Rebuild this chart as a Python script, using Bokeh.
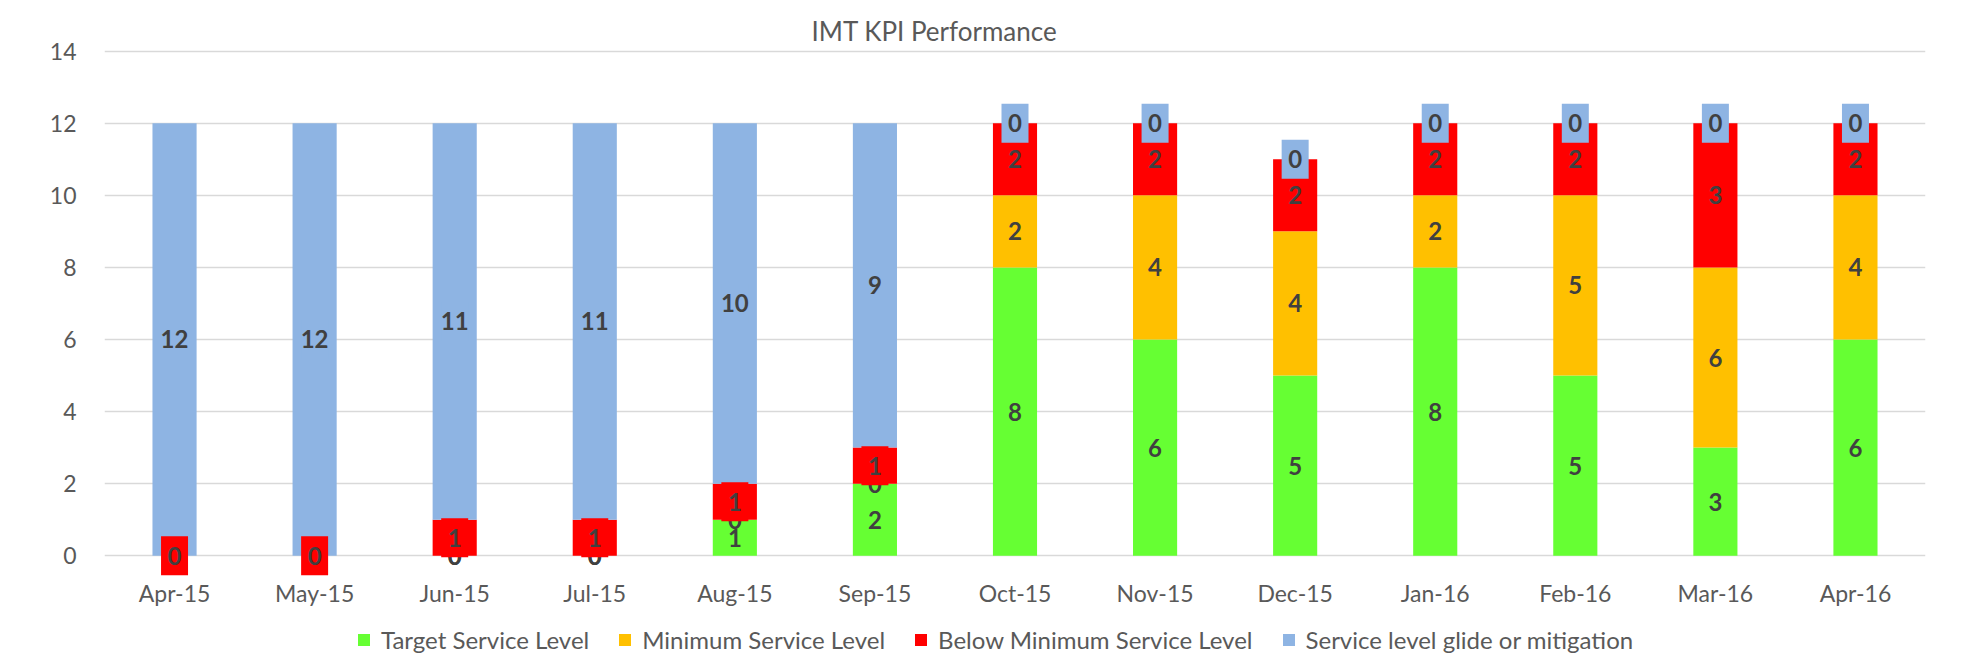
from bokeh.plotting import figure
from bokeh.models import FactorRange, FixedTicker, Legend, LegendItem, ColumnDataSource, Range1d
from bokeh.core.properties import value
from bokeh.embed import file_html
from bokeh.resources import INLINE

months = ["Apr-15", "May-15", "Jun-15", "Jul-15", "Aug-15", "Sep-15", "Oct-15",
          "Nov-15", "Dec-15", "Jan-16", "Feb-16", "Mar-16", "Apr-16"]
# bar segment heights as drawn
target = [0, 0, 0, 0, 1, 2, 8, 6, 5, 8, 5, 3, 6]
minimum = [0, 0, 0, 0, 0, 0, 2, 4, 4, 2, 5, 5, 4]
below = [0, 0, 1, 1, 1, 1, 2, 2, 2, 2, 2, 4, 2]
glide = [12, 12, 11, 11, 10, 9, 0, 0, 0, 0, 0, 0, 0]
# data labels as printed on the chart
target_lbl = [0, 0, 0, 0, 1, 2, 8, 6, 5, 8, 5, 3, 6]
minimum_lbl = [0, 0, 0, 0, 0, 0, 2, 4, 4, 2, 5, 6, 4]
below_lbl = [0, 0, 1, 1, 1, 1, 2, 2, 2, 2, 2, 3, 2]
glide_lbl = [12, 12, 11, 11, 10, 9, 0, 0, 0, 0, 0, 0, 0]
series_names = ["Target Service Level", "Minimum Service Level",
                "Below Minimum Service Level", "Service level glide or mitigation"]
colors = ["#66FF33", "#FFC000", "#FF0000", "#8EB4E3"]
label_boxed = [False, False, True, True]
y_ticks = [0, 2, 4, 6, 8, 10, 12, 14]

FONT = "Lato"

p = figure(x_range=FactorRange(factors=months), y_range=Range1d(-3.1, 14.1),
           width=1988, height=667, output_backend="svg", toolbar_location=None,
           min_border_left=104, min_border_right=63, min_border_top=47, min_border_bottom=0)
p.outline_line_color = None
p.background_fill_color = "white"
p.border_fill_color = "white"

p.title.text = "IMT KPI Performance"
p.title.text_font = FONT
p.title.text_font_size = "26px"
p.title.text_font_style = "normal"
p.title.text_color = "#595959"
p.title.align = "left"
p.title.offset = 707
p.title.standoff = 2

p.xgrid.grid_line_color = None
p.ygrid.grid_line_color = "#D9D9D9"
p.ygrid.grid_line_width = 1.5
p.yaxis.ticker = FixedTicker(ticks=y_ticks)
p.yaxis.axis_line_color = None
p.yaxis.major_tick_line_color = None
p.yaxis.minor_tick_line_color = None
p.yaxis.major_label_standoff = 22
p.yaxis.major_label_text_font = FONT
p.yaxis.major_label_text_font_size = "23px"
p.yaxis.major_label_text_color = "#595959"

p.xaxis.fixed_location = 0
p.xaxis.axis_line_color = None
p.xaxis.major_tick_line_color = None
p.xaxis.major_label_standoff = 17
p.xaxis.major_label_text_font = FONT
p.xaxis.major_label_text_font_size = "23px"
p.xaxis.major_label_text_color = "#595959"

data = [target, minimum, below, glide]
labels = [target_lbl, minimum_lbl, below_lbl, glide_lbl]
bottoms = [0] * len(months)
legend_items = []
mids_all = []
for vals, name, col in zip(data, series_names, colors):
    tops = [b + v for b, v in zip(bottoms, vals)]
    src = ColumnDataSource(dict(x=months, bottom=bottoms, top=tops))
    r = p.vbar(x="x", bottom="bottom", top="top", width=0.315, source=src,
               fill_color=col, line_color=None)
    legend_items.append(LegendItem(label=name, renderers=[r]))
    mids_all.append([b + v / 2 for b, v in zip(bottoms, vals)])
    bottoms = tops

for lbls, mids, col, boxed in zip(labels, mids_all, colors, label_boxed):
    src = ColumnDataSource(dict(x=months, y=mids, t=[str(v) for v in lbls]))
    if boxed:
        p.rect(x="x", y="y", width=27, height=39, width_units="screen", height_units="screen",
               source=src, fill_color=col, line_color=None)
    p.text(x="x", y="y", text="t", source=src, text_align="center", text_baseline="middle",
           text_font=value(FONT), text_font_size="24px", text_font_style="bold",
           text_color="#404040")

legend = Legend(items=legend_items, orientation="horizontal", location=(252, 13))
legend.label_text_font = FONT
legend.label_text_font_size = "24px"
legend.label_text_color = "#595959"
legend.glyph_width = 15
legend.glyph_height = 15
legend.label_standoff = 10
legend.spacing = 28
legend.padding = 0
legend.margin = 0
legend.border_line_color = None
legend.background_fill_alpha = 0
p.add_layout(legend, "center")

open("out.html", "w").write(file_html(p, INLINE))
